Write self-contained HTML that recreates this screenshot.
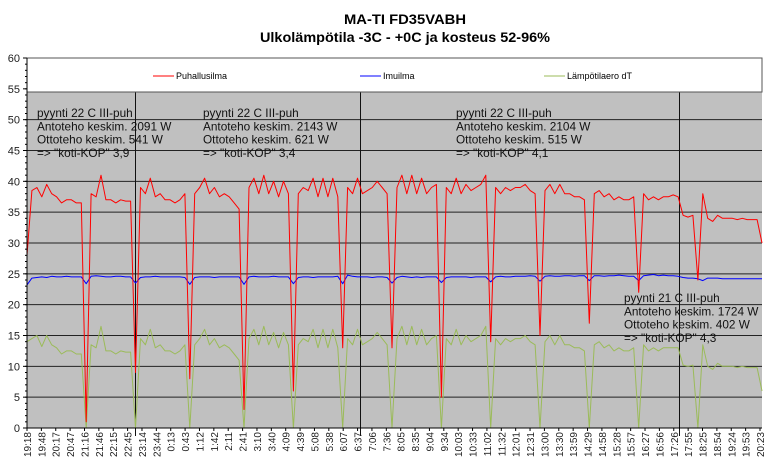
<!DOCTYPE html>
<html><head><meta charset="utf-8"><style>
body{margin:0;background:#fff;}
svg{display:block;font-family:"Liberation Sans",sans-serif;}
</style></head><body>
<svg id="chart" width="772" height="472" viewBox="0 0 772 472">
<text x="405" y="24" text-anchor="middle" font-size="14" font-weight="bold" textLength="122" lengthAdjust="spacingAndGlyphs">MA-TI FD35VABH</text>
<text x="405" y="42" text-anchor="middle" font-size="14" font-weight="bold" textLength="290" lengthAdjust="spacingAndGlyphs">Ulkolämpötila -3C - +0C ja kosteus 52-96%</text>
<rect x="27" y="58" width="735" height="370" fill="#c0c0c0"/>
<g id="grid"></g>
<g id="vlines"></g>
<rect x="27" y="58" width="735" height="34" fill="#fff" stroke="#555" stroke-width="1"/>
<g><line x1="153" y1="76" x2="174" y2="76" stroke="#f00"/><text x="176" y="79" font-size="9">Puhallusilma</text></g>
<g><line x1="360" y1="76" x2="381" y2="76" stroke="#00f"/><text x="383" y="79" font-size="9">Imuilma</text></g>
<g><line x1="544" y1="76" x2="565" y2="76" stroke="#9bbb59"/><text x="567" y="79" font-size="9">Lämpötilaero dT</text></g>
<g id="series"></g>
<g id="axes"></g>
<g font-size="11.8" fill="#111">
<text x="37" y="117"><tspan x="37">pyynti 22 C III-puh</tspan><tspan x="37" dy="13.3">Antoteho keskim. 2091 W</tspan><tspan x="37" dy="13.3">Ottoteho keskim. 541 W</tspan><tspan x="37" dy="13.3">=&gt; "koti-KOP" 3,9</tspan></text>
<text x="203" y="117"><tspan x="203">pyynti 22 C III-puh</tspan><tspan x="203" dy="13.3">Antoteho keskim. 2143 W</tspan><tspan x="203" dy="13.3">Ottoteho keskim. 621 W</tspan><tspan x="203" dy="13.3">=&gt; "koti-KOP" 3,4</tspan></text>
<text x="456" y="117"><tspan x="456">pyynti 22 C III-puh</tspan><tspan x="456" dy="13.3">Antoteho keskim. 2104 W</tspan><tspan x="456" dy="13.3">Ottoteho keskim. 515 W</tspan><tspan x="456" dy="13.3">=&gt; "koti-KOP" 4,1</tspan></text>
<text x="624" y="302"><tspan x="624">pyynti 21 C III-puh</tspan><tspan x="624" dy="13.3">Antoteho keskim. 1724 W</tspan><tspan x="624" dy="13.3">Ottoteho keskim. 402 W</tspan><tspan x="624" dy="13.3">=&gt; "koti-KOP" 4,3</tspan></text>
</g>
</svg>
<script>
const timeLabels=["19:18","19:48","20:17","20:47","21:16","21:46","22:15","22:45","23:14","23:44","0:13","0:43","1:12","1:42","2:11","2:41","3:10","3:40","4:09","4:39","5:08","5:38","6:07","6:37","7:06","7:36","8:05","8:35","9:04","9:34","10:03","10:33","11:02","11:32","12:01","12:31","13:00","13:30","13:59","14:29","14:58","15:28","15:57","16:27","16:56","17:26","17:55","18:25","18:54","19:24","19:53","20:23"];
const yTicks=[0,5,10,15,20,25,30,35,40,45,50,55,60];
const separatorLabelIdx=[7.5,23.15,45.35];
const puhallusilma=[28,38.5,39,37.5,39.5,38,37.5,36.5,37,37,36.5,36.5,1,38,37.5,41,37,37,36.5,37,36.8,36.8,9,39,38,40.5,37.5,38,37,37,36.5,37,38,8,38,39,40.5,38,39,37.5,38,37.5,36.5,35.5,3,39,40.5,38,41,38,40,37.5,40,38,6,38,39,38.5,40.5,37.5,40.5,37.5,40.5,37.5,13,39,38,40.5,38,38.5,39,40,39,38,13,39,41,38,41,38,40.5,38,39,39.5,5,39,38,40.5,38,39.5,38.5,39,39.5,41,14,39,38,39,38.5,39,39,39.5,38.5,38,15,38.5,39.5,38,39.5,38,38,37.5,37.5,37,17,38,38.5,37.5,38,37,37.5,37,37,37.5,22,38,37,37.5,37,37.5,37.5,37.8,37.5,34.5,34.2,34.5,24,38,34,33.5,34.5,34,34,34,33.8,34,33.8,33.8,33.8,30];
const imuilma=[23.2,24.3,24.4,24.5,24.4,24.6,24.5,24.5,24.6,24.5,24.5,24.5,23.4,24.6,24.7,24.6,24.5,24.5,24.6,24.6,24.5,24.5,23.5,24.4,24.5,24.5,24.6,24.5,24.5,24.5,24.5,24.5,24.4,23.3,24.4,24.5,24.5,24.5,24.4,24.5,24.5,24.5,24.5,24.5,23.3,24.5,24.6,24.5,24.5,24.5,24.6,24.5,24.5,24.5,23.4,24.4,24.5,24.5,24.4,24.5,24.5,24.5,24.5,24.6,23.4,24.8,24.6,24.5,24.5,24.5,24.4,24.5,24.5,24.4,23.5,24.4,24.6,24.5,24.4,24.5,24.4,24.5,24.5,24.5,23.6,24.4,24.5,24.5,24.5,24.5,24.4,24.5,24.5,24.5,23.7,24.5,24.6,24.5,24.5,24.6,24.6,24.6,24.7,24.6,23.8,24.6,24.7,24.6,24.6,24.7,24.7,24.6,24.7,24.7,23.9,24.7,24.7,24.6,24.7,24.7,24.8,24.7,24.6,24.6,23.9,24.7,24.8,24.9,24.7,24.8,24.7,24.7,24.6,24.4,24.3,24.3,24.2,23.9,24.3,24.3,24.3,24.2,24.2,24.2,24.2,24.2,24.2,24.2,24.2,24.2];
const lampotilaero=[14,14.5,15,13.2,15,13.5,13,12,12.5,12.5,12,12,0,13.5,13,16.5,12.5,12.5,12,12.5,12.3,12.3,0,14.5,13.5,16,13,13.5,12.5,12.5,12,12.5,13.5,0,13.5,14.5,16,13.5,14.5,13,13.5,13,12,11,0,14.5,16,13.5,16.5,13.5,15.5,13,15.5,13.5,0,13.5,14.5,14,16,13,16,13,16,13,0,14.5,13.5,16,13.5,14,14.5,15.5,14.5,13.5,0,14.5,16.5,13.5,16.5,13.5,16,13.5,14.5,15,0,14.5,13.5,16,13.5,15,14,14.5,15,16.5,0,14.5,13.5,14.5,14,14.5,14.5,15,14,13.5,0,14,15,13.5,15,13.5,13.5,13,13,12.5,0,13.5,14,13,13.5,12.5,13,12.5,12.5,13,0,13.5,12.5,13,12.5,13,13,13,13,10.2,10,10.2,0,13.5,10,9.5,10.5,10,10,10,9.8,10,9.8,9.8,9.8,6];

const NS="http://www.w3.org/2000/svg";
const X0=27,X1=762,Y0=428,Y1=58,YMAX=60;
const yScale=v=>Y0-(v/YMAX)*(Y0-Y1);
const labelX=i=>X0+i*((X1-2-X0)/(timeLabels.length-1));
const pointX=(i,n)=>X0+i*((X1-X0)/(n-1));
function mk(tag,attrs,parent){const e=document.createElementNS(NS,tag);for(const k in attrs)e.setAttribute(k,attrs[k]);parent.appendChild(e);return e;}
const grid=document.getElementById('grid'),axes=document.getElementById('axes'),series=document.getElementById('series'),vl=document.getElementById('vlines');
yTicks.forEach(v=>{
  const y=yScale(v);
  if(v>0){const l=mk('line',{x1:X0,x2:X1,y1:y,y2:y,stroke:'#222','stroke-width':1},grid);
    
    }
  const t=mk('text',{x:20,y:y+4,'text-anchor':'end','font-size':11,fill:'#222'},axes);
  t.textContent=v;
  
  
  mk('line',{x1:X0-4,x2:X0,y1:y,y2:y,stroke:'#000'},axes);
});
for(let v=0;v<=YMAX;v++){const y=yScale(v);mk('line',{x1:X0-2,x2:X0,y1:y,y2:y,stroke:'#000'},axes);}
mk('line',{x1:X0,x2:X0,y1:Y1,y2:Y0,stroke:'#000'},axes);
mk('line',{x1:X0,x2:X1,y1:Y0,y2:Y0,stroke:'#000'},axes);
separatorLabelIdx.forEach((idx,k)=>{
  const x=Math.round(labelX(idx))+0.5;
  const l=mk('line',{x1:x,x2:x,y1:Y1,y2:Y0+8,stroke:'#111'},vl);
  
  
});
timeLabels.forEach((lab,i)=>{
  const x=labelX(i);
  mk('line',{x1:x,x2:x,y1:Y0,y2:Y0+3,stroke:'#000'},axes);
  const t=mk('text',{transform:`translate(${x+4},${Y0+4}) rotate(-90)`,'text-anchor':'end','font-size':10,fill:'#222'},axes);
  t.textContent=lab;
  
  
});
function drawLine(arr,color,name){
  const pts=arr.map((v,i)=>pointX(i,arr.length).toFixed(1)+','+yScale(v).toFixed(1)).join(' ');
  const p=mk('polyline',{points:pts,fill:'none',stroke:color,'stroke-width':1,'stroke-linejoin':'round'},series);
  
  
}
drawLine(lampotilaero,'#9bbb59','series-lampotilaero');
drawLine(imuilma,'#0000ff','series-imuilma');
drawLine(puhallusilma,'#ff0000','series-puhallusilma');
</script>
</body></html>
